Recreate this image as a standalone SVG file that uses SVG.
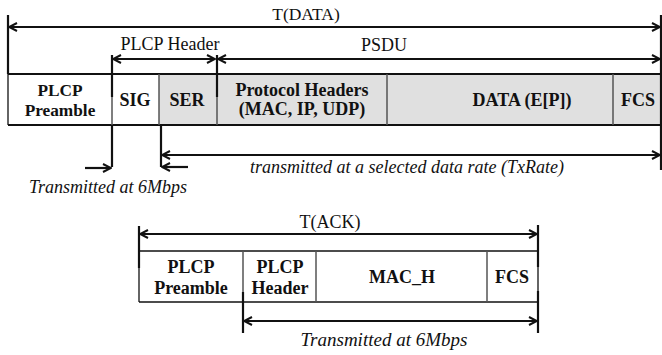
<svg xmlns="http://www.w3.org/2000/svg" width="662" height="355" viewBox="0 0 662 355">
  <style>
    text { font-family: 'Liberation Serif', 'Tinos', 'DejaVu Serif', serif; fill: #111; }
    .lbl { font-size: 18px; text-anchor: middle; }
    .cell { font-size: 18px; font-weight: bold; text-anchor: middle; }
    .note { font-size: 18px; font-style: italic; text-anchor: middle; }
    .sep { stroke: #555; stroke-width: 1.5; }
    .frame { stroke: #111; stroke-width: 2; }
    .thin { stroke: #111; stroke-width: 1.3; }
    .tick { stroke: #111; stroke-width: 2.2; }
    .span { stroke: #111; stroke-width: 2.2; fill: none; }
    .shade { fill: #e0e0e0; }
  </style>
  <defs>
    <marker id="head" viewBox="0 0 10 10" refX="9" refY="5" markerWidth="10" markerHeight="10" markerUnits="userSpaceOnUse" orient="auto-start-reverse">
      <path d="M1,1 L9,5 L1,9" fill="none" stroke="#111" stroke-width="2"/>
    </marker>
  </defs>
  <rect width="662" height="355" fill="#fff"/>

  <!-- DATA frame -->
  <g id="data-frame">
    <rect class="shade" x="159" y="74" width="502" height="51"/>
    <line class="frame" x1="8" y1="74" x2="661" y2="74"/>
    <line class="frame" x1="8" y1="125" x2="661" y2="125"/>
    <line class="thin" x1="8" y1="74" x2="8" y2="125"/>
  </g>
  <g id="plcp-preamble">
    <text class="cell" x="60" y="96" style="font-size:17.3px">PLCP</text>
    <text class="cell" x="60" y="116" style="font-size:17.3px">Preamble</text>
  </g>
  <g id="sig">
    <line class="sep" x1="112" y1="74" x2="112" y2="125"/>
    <text class="cell" x="135" y="106">SIG</text>
  </g>
  <g id="ser">
    <line class="sep" x1="159" y1="74" x2="159" y2="125"/>
    <text class="cell" x="187" y="106">SER</text>
  </g>
  <g id="protocol-headers">
    <line class="sep" x1="217" y1="74" x2="217" y2="125"/>
    <text class="cell" x="302" y="96">Protocol Headers</text>
    <text class="cell" x="302" y="115">(MAC, IP, UDP)</text>
  </g>
  <g id="data-payload">
    <line class="sep" x1="387" y1="74" x2="387" y2="125"/>
    <text class="cell" x="522" y="106">DATA (E[P])</text>
  </g>
  <g id="data-fcs">
    <line class="sep" x1="613" y1="74" x2="613" y2="125"/>
    <text class="cell" x="638" y="106">FCS</text>
  </g>

  <!-- ACK frame -->
  <g id="ack-frame">
    <line class="thin" x1="139" y1="251" x2="538" y2="251"/>
    <line class="thin" x1="139" y1="302" x2="538" y2="302"/>
    <line class="thin" x1="139" y1="251" x2="139" y2="302"/>
    <line class="thin" x1="538" y1="251" x2="538" y2="302"/>
  </g>
  <g id="ack-preamble">
    <text class="cell" x="191" y="273">PLCP</text>
    <text class="cell" x="191" y="294">Preamble</text>
  </g>
  <g id="ack-header">
    <line class="sep" x1="243" y1="251" x2="243" y2="302"/>
    <text class="cell" x="280" y="273">PLCP</text>
    <text class="cell" x="280" y="294">Header</text>
  </g>
  <g id="ack-mac">
    <line class="sep" x1="316" y1="251" x2="316" y2="302"/>
    <text class="cell" x="402" y="283">MAC_H</text>
  </g>
  <g id="ack-fcs">
    <line class="sep" x1="487" y1="251" x2="487" y2="302"/>
    <text class="cell" x="512" y="283">FCS</text>
  </g>

  <!-- span markers and arrows -->
  <g id="connectors">
    <!-- T(DATA) -->
    <line class="tick" x1="8" y1="15" x2="8" y2="74"/>
    <line class="tick" x1="661" y1="15" x2="661" y2="170"/>
    <line class="span" x1="9" y1="27" x2="660" y2="27" marker-start="url(#head)" marker-end="url(#head)"/>
    <!-- PLCP Header / PSDU -->
    <line class="tick" x1="112" y1="55" x2="112" y2="97"/>
    <line class="tick" x1="217" y1="55" x2="217" y2="97"/>
    <line class="span" x1="113" y1="59" x2="215" y2="59" marker-start="url(#head)" marker-end="url(#head)"/>
    <line class="span" x1="218" y1="59" x2="660" y2="59" marker-start="url(#head)" marker-end="url(#head)"/>
    <!-- 6Mbps part -->
    <line class="tick" x1="112" y1="125" x2="112" y2="167"/>
    <line class="span" x1="85" y1="168" x2="111" y2="168" marker-end="url(#head)"/>
    <!-- TxRate part -->
    <line class="tick" x1="161" y1="125" x2="161" y2="167"/>
    <line class="span" x1="162" y1="155" x2="660" y2="155" marker-start="url(#head)" marker-end="url(#head)"/>
    <line class="span" x1="188" y1="167" x2="162" y2="167" marker-end="url(#head)"/>
    <!-- T(ACK) -->
    <line class="tick" x1="139" y1="226" x2="139" y2="268"/>
    <line class="tick" x1="538" y1="225" x2="538" y2="267"/>
    <line class="span" x1="140" y1="234" x2="537" y2="234" marker-start="url(#head)" marker-end="url(#head)"/>
    <!-- ACK 6Mbps -->
    <line class="tick" x1="243" y1="292" x2="243" y2="333"/>
    <line class="tick" x1="538" y1="291" x2="538" y2="333"/>
    <line class="span" x1="244" y1="321" x2="537" y2="321" marker-start="url(#head)" marker-end="url(#head)"/>
  </g>

  <!-- labels -->
  <g id="labels">
    <text class="lbl" x="306" y="20" style="font-size:17.5px">T(DATA)</text>
    <text class="lbl" x="170" y="50">PLCP Header</text>
    <text class="lbl" x="384" y="51">PSDU</text>
    <text class="note" x="407" y="173">transmitted at a selected data rate (TxRate)</text>
    <text class="note" x="108" y="193">Transmitted at 6Mbps</text>
    <text class="lbl" x="330" y="228">T(ACK)</text>
    <text class="note" x="384" y="346" style="font-size:19px">Transmitted at 6Mbps</text>
  </g>
</svg>
